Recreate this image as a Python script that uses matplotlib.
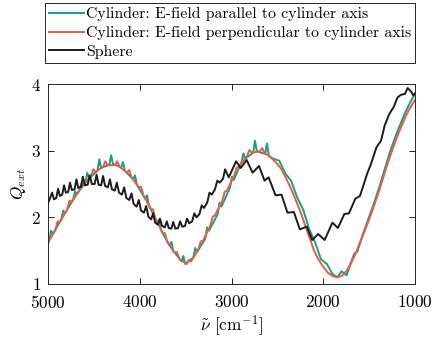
import matplotlib
matplotlib.use('Agg')
import matplotlib.pyplot as plt
import numpy as np


# Read data
nu_par = [5000, 4985, 4967, 4947, 4855, 4835, 4815, 4725, 4705, 4685,
          4592, 4572, 4552, 4461, 4441, 4421, 4332, 4312, 4292, 4203,
          4183, 4163, 4072, 4052, 4032, 3941, 3921, 3901, 3810, 3790,
          3770, 3675, 3655, 3635, 3545, 3525, 3505, 3415, 3395, 3375,
          3285, 3265, 3245, 3150, 3130, 3110, 3015, 2995, 2975, 2890,
          2870, 2850, 2764, 2744, 2724, 2633, 2613, 2593, 2545, 2480,
          2415, 2350, 2285, 2220, 2155, 2090, 2025, 1960, 1905, 1850,
          1800, 1745, 1700, 1660, 1630, 1570, 1505, 1450, 1400, 1350,
          1300, 1250, 1200, 1150, 1100, 1050, 1000]
q_par = [1.60, 1.66, 1.80, 1.75, 1.97, 2.10, 2.06, 2.27, 2.39, 2.35,
         2.52, 2.67, 2.58, 2.70, 2.87, 2.74, 2.79, 2.93, 2.80, 2.75,
         2.83, 2.70, 2.57, 2.63, 2.49, 2.28, 2.33, 2.18, 1.93, 1.96,
         1.81, 1.58, 1.63, 1.50, 1.34, 1.42, 1.30, 1.40, 1.54, 1.48,
         1.68, 1.85, 1.80, 2.05, 2.22, 2.16, 2.45, 2.61, 2.56, 2.83,
         2.96, 2.88, 2.97, 3.15, 2.99, 2.95, 3.11, 2.92, 2.88, 2.85,
         2.66, 2.55, 2.30, 2.12, 1.83, 1.63, 1.37, 1.30, 1.16, 1.10,
         1.19, 1.13, 1.32, 1.46, 1.48, 1.74, 1.99, 2.20, 2.41, 2.63,
         2.86, 3.07, 3.26, 3.43, 3.59, 3.73, 3.85]

nu_perp = [5000, 4920, 4895, 4870, 4790, 4765, 4740, 4660, 4635, 4610,
           4530, 4505, 4480, 4400, 4375, 4350, 4270, 4245, 4220, 4140,
           4115, 4090, 4010, 3985, 3960, 3880, 3855, 3830, 3750, 3725,
           3700, 3620, 3595, 3570, 3490, 3465, 3440, 3360, 3335, 3310,
           3230, 3205, 3180, 3100, 3075, 3050, 2970, 2945, 2920, 2830,
           2805, 2780, 2690, 2665, 2640, 2600, 2550, 2500, 2450, 2400,
           2350, 2300, 2250, 2200, 2150, 2100, 2050, 2000, 1950, 1900,
           1850, 1800, 1750, 1700, 1650, 1600, 1550, 1500, 1450, 1400,
           1350, 1300, 1250, 1200, 1150, 1100, 1050, 1000]
q_perp = [1.62, 1.81, 1.94, 1.93, 2.12, 2.25, 2.23, 2.40, 2.51, 2.49,
          2.62, 2.72, 2.68, 2.76, 2.84, 2.78, 2.785, 2.84, 2.76, 2.67,
          2.71, 2.60, 2.45, 2.46, 2.33, 2.13, 2.12, 1.98, 1.77, 1.76,
          1.63, 1.47, 1.48, 1.38, 1.30, 1.36, 1.34, 1.52, 1.64, 1.65,
          1.88, 2.01, 2.03, 2.25, 2.38, 2.40, 2.63, 2.74, 2.76, 2.92,
          3.01, 2.97, 2.99, 3.04, 2.96, 2.93, 2.87, 2.80, 2.71, 2.57,
          2.43, 2.26, 2.09, 1.89, 1.70, 1.50, 1.36, 1.26, 1.17, 1.12,
          1.10, 1.12, 1.19, 1.30, 1.45, 1.62, 1.79, 1.97, 2.16, 2.36,
          2.58, 2.80, 3.00, 3.19, 3.36, 3.52, 3.65, 3.76]

nu_sph = [5000, 4955, 4935, 4910, 4890, 4870, 4845, 4825, 4805, 4780,
          4760, 4740, 4710, 4690, 4670, 4640, 4620, 4598, 4567, 4545,
          4523, 4492, 4470, 4449, 4421, 4400, 4378, 4347, 4325, 4303,
          4272, 4250, 4226, 4194, 4170, 4146, 4114, 4090, 4066, 4034,
          4010, 3986, 3954, 3930, 3906, 3875, 3855, 3832, 3802, 3780,
          3757, 3727, 3705, 3684, 3656, 3635, 3612, 3582, 3560, 3537,
          3507, 3485, 3461, 3429, 3405, 3381, 3349, 3325, 3300, 3265,
          3240, 3215, 3180, 3155, 3128, 3092, 3070, 3030, 2950, 2900,
          2835, 2770, 2700, 2640, 2595, 2520, 2455, 2390, 2320, 2255,
          2180, 2120, 2055, 1985, 1900, 1840, 1770, 1720, 1650, 1600,
          1520, 1480, 1420, 1370, 1330, 1280, 1230, 1190, 1150, 1110,
          1080, 1040, 1020, 1000]
q_sph = [2.21, 2.37, 2.27, 2.29, 2.43, 2.32, 2.34, 2.48, 2.37, 2.38,
         2.52, 2.41, 2.42, 2.57, 2.44, 2.46, 2.61, 2.48, 2.49, 2.63,
         2.50, 2.50, 2.64, 2.49, 2.48, 2.62, 2.47, 2.45, 2.57, 2.42,
         2.40, 2.52, 2.37, 2.34, 2.45, 2.29, 2.26, 2.36, 2.20, 2.16,
         2.26, 2.10, 2.07, 2.17, 2.01, 1.97, 2.06, 1.92, 1.89, 1.98,
         1.87, 1.85, 1.94, 1.84, 1.83, 1.93, 1.83, 1.84, 1.94, 1.86,
         1.87, 1.98, 1.91, 1.94, 2.06, 2.00, 2.05, 2.18, 2.14, 2.22,
         2.37, 2.34, 2.42, 2.55, 2.52, 2.58, 2.72, 2.60, 2.84, 2.74,
         2.86, 2.67, 2.77, 2.55, 2.60, 2.33, 2.34, 2.07, 2.08, 1.82,
         1.86, 1.66, 1.75, 1.66, 1.92, 1.84, 2.05, 2.06, 2.28, 2.32,
         2.66, 2.80, 3.05, 3.15, 3.38, 3.55, 3.66, 3.80, 3.84, 3.85,
         3.94, 3.88, 3.83, 3.86]

labels = ['Cylinder: E-field parallel to cylinder axis',
          'Cylinder: E-field perpendicular to cylinder axis',
          'Sphere']
xticks = [5000, 4000, 3000, 2000, 1000]
yticks = [1, 2, 3, 4]


plt.rcParams['font.family'] = 'serif'
plt.rcParams['font.serif'] = ['cmr10']
plt.rcParams['mathtext.fontset'] = 'cm'
plt.rcParams['axes.formatter.use_mathtext'] = True

fig = plt.figure(figsize=(4.33, 3.37), dpi=100)
ax = fig.add_axes([48/433, 53/337, 367/433, 200/337])

ax.plot(nu_par, q_par, '-', color='#13a083', lw=1.4, label=labels[0])
ax.plot(nu_perp, q_perp, '-', color='#ec5a45', lw=1.4, label=labels[1])
ax.plot(nu_sph, q_sph, '-', color='#1c1c1c', lw=1.4, label=labels[2])

ax.set_xlim([5000, 1000])
ax.set_ylim([1, 4])
ax.set_xticks(xticks)
ax.set_yticks(yticks)
ax.tick_params(direction='in', top=True, right=True, length=4, width=0.6,
               labelsize=12.4)
ax.tick_params(axis='x', pad=7)
ax.tick_params(axis='y', pad=5)
for s in ax.spines.values():
    s.set_linewidth(0.7)
    s.set_color('#262626')

ax.set_xlabel(r'$\tilde{\nu}$ [cm$^{-1}$]', fontsize=12.4, labelpad=2)
ax.set_ylabel(r'$Q_{ext}$', fontsize=12.4, labelpad=2)

leg = fig.legend(loc='upper left',
                 bbox_to_anchor=(45/433, 1 - 63/337, 370/433, 60/337),
                 mode='expand', borderaxespad=0, fontsize=11.4,
                 handlelength=2.2, handletextpad=0.15, labelspacing=0.3,
                 borderpad=0.25, fancybox=False, framealpha=1)
leg.get_frame().set_edgecolor('#262626')
leg.get_frame().set_linewidth(0.7)

plt.savefig('out.png', dpi=100)
